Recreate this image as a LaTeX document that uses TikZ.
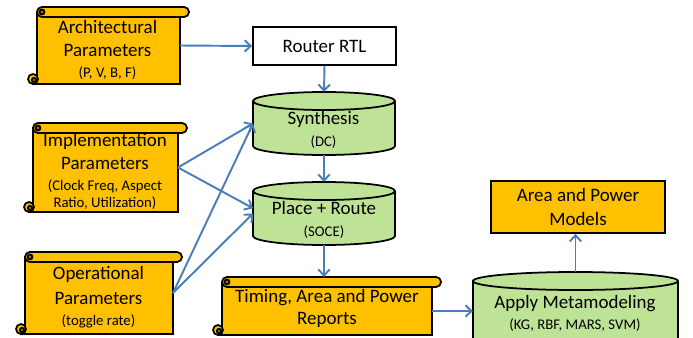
\documentclass[tikz,border=0pt]{standalone}
\usepackage{fontspec}
\setmainfont{Carlito}
\usetikzlibrary{arrows.meta}

\newcommand{\px}{0.02cm}
\newcommand{\bigtxt}{\fontsize{10.8}{13}\selectfont}
\newcommand{\smalltxt}{\fontsize{8.4}{10}\selectfont}
\definecolor{scrollgold}{RGB}{255,192,0}
\definecolor{cylgreen}{RGB}{190,227,150}
\definecolor{flowblue}{RGB}{74,126,187}

\tikzset{
  outline/.style={draw=black, line width=1pt},
  flow/.style={draw=flowblue, line width=1.1pt, -{Straight Barb[length=3.5pt,width=6.5pt]}},
  area/.style={inner sep=0pt, outer sep=0pt},
  boxtext/.style={align=center, font=\bigtxt, inner sep=0pt},
  plainbox/.style={outline, align=center, font=\bigtxt, inner sep=0pt},
}

% scroll: left, top, right, bottom
\newcommand{\scrollshape}[4]{%
  \filldraw[outline, fill=scrollgold] (#1,#2+5) -- (#3,#2+5) -- (#3,#4) -- (#1-4,#4) -- (#1-4,#4-5) -- (#1,#4-5) -- cycle;
  \filldraw[outline, fill=scrollgold] (#1-4,#4-5) circle[radius=5];
  \filldraw[outline, fill=scrollgold, rounded corners=2.8pt] (#1,#2) rectangle (#3+9,#2+10);
  \filldraw[outline, fill=scrollgold!60!black] (#1+5,#2+5) circle[radius=2.5];
  \filldraw[outline, fill=scrollgold!60!black] (#1-3,#4-4) circle[radius=2.2];
}

% cylinder: centre x, top, bottom, half width
\newcommand{\cylshape}[4]{%
  \filldraw[outline, fill=cylgreen] (#1-#4,#2+9) -- (#1-#4,#3-9)
    arc[start angle=180, end angle=0, x radius=#4, y radius=9] -- (#1+#4,#2+9)
    arc[start angle=0, end angle=-180, x radius=#4, y radius=9] -- cycle;
  \draw[outline] (#1-#4,#2+9) arc[start angle=180, end angle=0, x radius=#4, y radius=9];
}

\begin{document}
\begin{tikzpicture}[x=\px, y=-\px]
  \useasboundingbox (0,0) rectangle (693,338);
  \clip (0,0) rectangle (693,338);

  % shapes
  \scrollshape{37}{7}{180}{84}
  \scrollshape{33}{123}{178}{212}
  \scrollshape{25}{252}{173}{334}
  \scrollshape{222}{277}{432}{335}
  \cylshape{324}{92}{155}{71}
  \cylshape{324}{182}{245}{71}
  \cylshape{575.5}{272}{350}{102.5}

  % frames
  \node[area, minimum width=143*\px, minimum height=77*\px] (arch) at (108.5,45.5) {};
  \node[area, minimum width=145*\px, minimum height=89*\px] (impl) at (105.5,167.5) {};
  \node[area, minimum width=148*\px, minimum height=82*\px] (oper) at (99,293) {};
  \node[area, minimum width=210*\px, minimum height=58*\px] (timing) at (327,306) {};
  \node[area, minimum width=142*\px, minimum height=63*\px] (synth) at (324,123.5) {};
  \node[area, minimum width=142*\px, minimum height=63*\px] (place) at (324,213.5) {};
  \node[area, minimum width=205*\px, minimum height=78*\px] (apply) at (575.5,311) {};

  % boxes
  \node[plainbox, fill=white, minimum width=143*\px, minimum height=38*\px] (router) at (324.5,46) {Router RTL};
  \node[plainbox, fill=scrollgold, minimum width=174*\px, minimum height=52*\px] (models) at (578,207) {Area and Power\\[0.6pt]Models};

  % texts
  \node[boxtext] (archtext) at (107.5,50) {Architectural\\Parameters\\[-1.1pt]{\smalltxt (P, V, B, F)}};
  \node[boxtext] (impltext) at (105,171.5) {Implementation\\Parameters\\[-1.1pt]{\smalltxt (Clock Freq, Aspect}\\[-3.4pt]{\smalltxt Ratio, Utilization)}};
  \node[boxtext] (opertext) at (98.5,297) {Operational\\[1.2pt]Parameters\\[-1.1pt]{\smalltxt (toggle rate)}};
  \node[boxtext] (timingtext) at (327,308) {Timing, Area and Power\\[-0.5pt]Reports};
  \node[boxtext] (synthtext) at (323.5,130) {Synthesis\\[-0.5pt]{\smalltxt (DC)}};
  \node[boxtext] (placetext) at (324,220) {Place + Route\\[-0.5pt]{\smalltxt (SOCE)}};
  \node[boxtext] (applytext) at (575,313.5) {Apply Metamodeling\\[-1.1pt]{\smalltxt (KG, RBF, MARS, SVM)}};

  % connectors
  \draw[flow] (arch.east) -- (router.west);
  \draw[flow] (router.south) -- (synth.north);
  \draw[flow] (synth.south) -- (place.north);
  \draw[flow] (place.south) -- (place.south |- timing.north);
  \draw[flow] (impl.east) -- (synth.west);
  \draw[flow] (impl.east) -- ([yshift=3pt]place.west);
  \draw[flow] (oper.east) -- (synth.west);
  \draw[flow] (oper.east) -- (place.west);
  \draw[flow] (apply.west -| timing.east) -- (apply.west);
  \draw[flow] (apply.north) -- (apply.north |- models.south);
\end{tikzpicture}
\end{document}
